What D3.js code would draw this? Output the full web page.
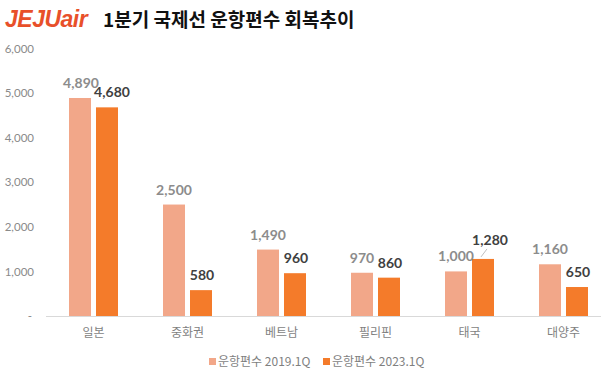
<!DOCTYPE html>
<html><head><meta charset="utf-8">
<script src="https://cdn.jsdelivr.net/npm/d3@7"></script>
<style>
body{margin:0;background:#fff;}
svg{display:block;}
</style></head>
<body><svg id="c" width="601" height="373"></svg>
<script>
const categories = ["일본","중화권","베트남","필리핀","태국","대양주"];
const series2019 = [4890, 2500, 1490, 970, 1000, 1160];
const series2023 = [4680, 580, 960, 860, 1280, 650];
const seriesNames = ["운항편수 2019.1Q","운항편수 2023.1Q"];
const yTicks = [0,1000,2000,3000,4000,5000,6000];
const titleText = "1분기 국제선 운항편수 회복추이";

const svg = d3.select("#c");
const kr = "'Noto Sans CJK KR', sans-serif";
const num = "Lato, 'Noto Sans CJK KR', sans-serif";
const c1 = "#f2a789", c2 = "#f47b2a";

const x = d3.scaleBand().domain(categories).range([46.5, 610.5]).paddingInner(0).paddingOuter(0);
const y = d3.scaleLinear().domain([0,6000]).range([316, 48.5]);
const barW = 22, gap = 5;

// logo
svg.append("text").attr("x",5).attr("y",27).attr("fill","#e8502a")
  .attr("font-family","'Liberation Sans', Arial, sans-serif").attr("font-weight","bold")
  .attr("font-style","italic").attr("font-size",23).attr("letter-spacing",-0.5).text("JEJUair");
svg.append("text").attr("x",103).attr("y",27).attr("fill","#111")
  .attr("font-family",kr).attr("font-weight","bold").attr("font-size",19).text(titleText);

// y axis labels
const yAxis = d3.axisLeft(y).tickValues(yTicks).tickSize(0).tickPadding(0)
  .tickFormat(d => d===0 ? "-" : d3.format(",")(d));
const ya = svg.append("g").attr("transform","translate(34,0)").call(yAxis);
ya.select(".domain").remove();
ya.selectAll("text").attr("fill","#8a8a8a").attr("font-family",num).attr("font-size",11.5);
ya.selectAll(".tick").filter(d=>d===0).select("text").attr("dx",-2);

// x axis
const xa = svg.append("g").attr("transform","translate(0,316)")
  .call(d3.axisBottom(x).tickSize(0).tickPadding(12));
xa.select(".domain").attr("stroke","#d9d9d9").attr("d","M46,0.5H601");
xa.selectAll("text").attr("fill","#7f7f7f").attr("font-family",kr).attr("font-size",12);

// bars
const cx = d => x(d) + x.bandwidth()/2;
svg.append("g").selectAll("rect").data(categories).join("rect")
  .attr("x", d => cx(d) - gap/2 - barW).attr("width", barW)
  .attr("y", (d,i) => y(series2019[i])).attr("height",(d,i)=> y(0)-y(series2019[i])).attr("fill", c1);
svg.append("g").selectAll("rect").data(categories).join("rect")
  .attr("x", d => cx(d) + gap/2).attr("width", barW)
  .attr("y", (d,i) => y(series2023[i])).attr("height",(d,i)=> y(0)-y(series2023[i])).attr("fill", c2);

// labels
const fmt = d3.format(",");
svg.append("g").selectAll("text").data(categories).join("text")
  .attr("x", (d,i) => cx(d) - gap/2 - barW/2 + (i===0 ? 1 : 0)).attr("y",(d,i)=> y(series2019[i]) - 10)
  .attr("text-anchor","middle").attr("fill","#8c8c8c").attr("font-family",num)
  .attr("font-weight","bold").attr("font-size",14).text((d,i)=>fmt(series2019[i]));
svg.append("g").selectAll("text").data(categories).join("text")
  .attr("x", (d,i) => cx(d) + gap/2 + barW/2 + (i===4 ? 7 : i===0 ? 5 : 1)).attr("y",(d,i)=> y(series2023[i]) - (i===4 ? 14 : 10))
  .attr("text-anchor","middle").attr("fill","#404040").attr("font-family",num)
  .attr("font-weight","bold").attr("font-size",14).text((d,i)=>fmt(series2023[i]));
// leader line for 태국
{
  const bx = cx("태국") + gap/2 + barW/2;
  const by = y(series2023[4]);
  svg.append("line").attr("x1",bx-2).attr("y1",by-2).attr("x2",bx+4).attr("y2",by-10)
    .attr("stroke","#bfbfbf").attr("stroke-width",1);
}

// legend
const lg = svg.append("g");
[[209,c1,seriesNames[0]],[323,c2,seriesNames[1]]].forEach(([lx,col,t])=>{
  lg.append("rect").attr("x",lx).attr("y",358).attr("width",7).attr("height",7).attr("fill",col);
  lg.append("text").attr("x",lx+9).attr("y",366).attr("fill","#7f7f7f").attr("font-family",kr)
    .attr("font-size",12).text(t);
});
</script></body></html>
